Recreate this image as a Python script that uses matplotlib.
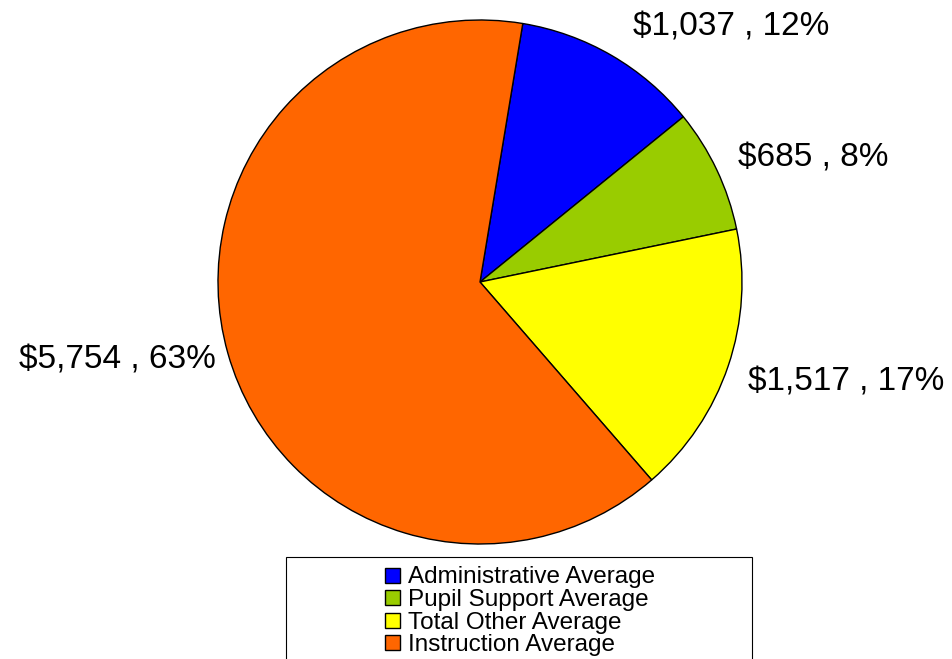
import matplotlib
matplotlib.use('Agg')
import matplotlib.pyplot as plt
from matplotlib.patches import Rectangle

# ── Data ──
categories = ["Administrative Average", "Pupil Support Average",
              "Total Other Average", "Instruction Average"]
amounts = [1037, 685, 1517, 5754]
percents = [12, 8, 17, 63]
colors = ["#0000FF", "#99CC00", "#FFFF00", "#FF6600"]

plt.rcParams['font.family'] = ['Liberation Sans', 'DejaVu Sans']

W, H = 952, 659
fig = plt.figure(figsize=(W / 100, H / 100), dpi=100)
R = 262
cx, cy = 480, 282
ax = fig.add_axes([(cx - R) / W, (H - cy - R) / H, 2 * R / W, 2 * R / H])

wedges, _ = ax.pie(amounts, colors=colors, startangle=80.6, counterclock=False,
                   radius=1, wedgeprops=dict(edgecolor="black", linewidth=1))
ax.set_xlim(-1, 1)
ax.set_ylim(-1, 1)
ax.set_aspect("equal")
ax.axis("off")

# label anchor spots (data units, relative to pie radius)
label_pos = [(0.958, 0.975), (1.271, 0.473), (1.397, -0.382), (-1.385, -0.298)]
for (lx, ly), amt, pct in zip(label_pos, amounts, percents):
    ax.text(lx, ly, f"${amt:,} , {pct}%", ha="center", va="center",
            fontsize=24, clip_on=False)

# ── Legend (drawn by hand: wide box, entries centred) ──
fig.patches.append(Rectangle((286 / W, -0.05), (752 - 286) / W, 0.05 + 1 - 557 / H,
                             transform=fig.transFigure, facecolor="white",
                             edgecolor="black", linewidth=0.8, zorder=0))
row_y0, row_step = 575, 22.6
for i, (c, name) in enumerate(zip(colors, categories)):
    yc = row_y0 + i * row_step
    fig.patches.append(Rectangle((385 / W, 1 - (yc + 7.5) / H), 15 / W, 15 / H,
                                 transform=fig.transFigure, facecolor=c,
                                 edgecolor="black", linewidth=1, zorder=2))
    fig.text(408 / W, 1 - yc / H, name, ha="left", va="center_baseline",
             fontsize=17.5, zorder=3)

fig.savefig("out.png", dpi=100)
